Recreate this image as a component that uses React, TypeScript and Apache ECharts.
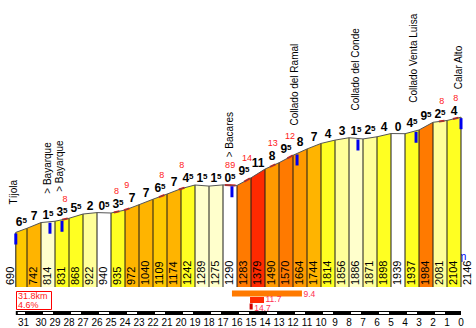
import React, { useEffect, useRef } from "react";
import * as echarts from "echarts";

const kmToGo = [31.8, 31, 30, 29, 28, 27, 26, 25, 24, 23, 22, 21, 20, 19, 18, 17, 16, 15, 14, 13, 12, 11, 10, 9, 8, 7, 6, 5, 4, 3, 2, 1, 0];
const elevations = [690, 742, 814, 831, 868, 922, 940, 935, 972, 1040, 1109, 1174, 1242, 1289, 1275, 1290, 1283, 1379, 1490, 1570, 1664, 1744, 1814, 1856, 1886, 1871, 1898, 1939, 1937, 1984, 2081, 2104, 2146];
const gradients = [6.5, 7, 1.5, 3.5, 5.5, 2, 0.5, 3.5, 7, 7, 6.5, 7, 4.5, 1.5, 1.5, 0.5, 9.5, 11, 8, 9.5, 8, 7, 4, 3, 1.5, 2.5, 4, 0, 4.5, 9.5, 2.5, 4];
const placeNames = ["Tíjola", "> Bayarque", "> Bayarque", "> Bacares", "Collado del Ramal", "Collado del Conde", "Collado Venta Luisa", "Calar Alto"];
const placeKm = [31.8, 29.36, 28.5, 16.36, 11.71, 7.36, 3.21, 0];
const steepKm = [28.29, 24.6, 23.88, 21.38, 19.95, 16.67, 16.3, 15.28, 13.45, 12.21, 1.38, 0.38];
const steepGrade = [8, 8, 9, 8, 8, 8, 9, 14, 13, 12, 8, 8];
const stretchLabels = ["9.4", "11.7", "14.7"];
const stretchFrom = [16.36, 15.07, 15.1];
const stretchTo = [11.36, 14.07, 14.88];
const totalKm = 31.8;
const avgGrade = 4.6;
const creditText = "www.cyclingcols.com";

// ---- styling helpers ----
const SANS = "'Liberation Sans', Arial, sans-serif";
const BOLD = "'DejaVu Sans', Verdana, sans-serif";
const STRETCH_TEXT_DY = [3, 1.8, 4];

function colorFor(g: number): string {
  if (g < 1) return "#FFFFFF";
  if (g < 2) return "#FFFFCC";
  if (g < 3.5) return "#FFFF99";
  if (g < 6) return "#FFFF22";
  if (g < 7) return "#FFC800";
  if (g < 8) return "#FFB400";
  if (g < 9) return "#FF9A00";
  if (g < 10) return "#FF7A00";
  if (g < 12) return "#FF2A00";
  return "#D00000";
}

function profileAt(k: number) {
  for (let i = 0; i < kmToGo.length - 1; i++) {
    const a = kmToGo[i];
    const b = kmToGo[i + 1];
    if (k <= a && k >= b) {
      const t = (a - k) / (a - b);
      return {
        e: elevations[i] + t * (elevations[i + 1] - elevations[i]),
        top: Math.max(elevations[i], elevations[i + 1]),
      };
    }
  }
  const n = elevations.length - 1;
  return { e: elevations[n], top: elevations[n] };
}

const barData = gradients.map((g, i) => [kmToGo[i], kmToGo[i + 1], elevations[i], elevations[i + 1], g]);
const pointData = kmToGo.map((k, i) => [k, elevations[i]]);

function gradeText(g: number) {
  const parts = String(g).split(".");
  return parts.length > 1 ? `{a|${parts[0]}}{b|${parts[1]}}` : `{a|${parts[0]}}`;
}

export default function App() {
  const ref = useRef<HTMLDivElement>(null);
  useEffect(() => {
    document.body.style.margin = "0";
    const chart = echarts.init(ref.current!, null, { renderer: "svg" });
    const lastBar = barData.length - 1;
    const option: any = {
      animation: false,
      backgroundColor: "#ffffff",
      grid: { left: 15.8, right: 15, top: 10, bottom: 41 },
      xAxis: {
        type: "value",
        min: 0,
        max: totalKm,
        inverse: true,
        interval: 1,
        axisLine: { show: false },
        axisTick: { show: false },
        splitLine: { show: false },
        axisLabel: {
          showMaxLabel: false,
          margin: 30,
          fontSize: 10,
          fontFamily: SANS,
          color: "#000",
          formatter: (v: number) => (Number.isInteger(v) ? (v === 31 ? "{s|31}" : String(v)) : ""),
          rich: { s: { padding: [0, 7, 0, 0], fontSize: 10, fontFamily: SANS, color: "#000" } },
        },
      },
      yAxis: { type: "value", min: 0, max: 3500, show: false },
      series: [
        {
          type: "custom",
          clip: false,
          silent: true,
          data: barData,
          encode: { x: [0, 1], y: [2, 3] },
          renderItem: (params: any, api: any) => {
            const k0 = api.value(0), k1 = api.value(1), e0 = api.value(2), e1 = api.value(3), g = api.value(4);
            const p0 = api.coord([k0, e0]);
            const p1 = api.coord([k1, e1]);
            const b0 = api.coord([k0, 0]);
            const b1 = api.coord([k1, 0]);
            const children: any[] = [
              { type: "polygon", shape: { points: [b0, p0, p1, b1] }, style: { fill: colorFor(g) } },
              { type: "line", shape: { x1: p0[0], y1: p0[1], x2: b0[0], y2: b0[1] }, style: { stroke: "#1a1a1a", lineWidth: 1 } },
            ];
            if (params.dataIndex === lastBar) {
              children.push({ type: "line", shape: { x1: p1[0], y1: p1[1], x2: b1[0], y2: b1[1] }, style: { stroke: "#1a1a1a", lineWidth: 1 } });
            }
            return { type: "group", children };
          },
        },
        {
          type: "line",
          data: pointData,
          symbol: "none",
          silent: true,
          lineStyle: { color: "#555", width: 1 },
        },
        {
          type: "custom",
          clip: false,
          silent: true,
          data: pointData,
          encode: { x: 0, y: 1 },
          renderItem: (params: any, api: any) => {
            const k = api.value(0), e = api.value(1);
            const p = api.coord([k, e]);
            const b = api.coord([k, 0]);
            const off = params.dataIndex === 0 ? -6 : 5.5;
            return {
              type: "text",
              x: p[0] + off,
              y: b[1] - 2,
              rotation: Math.PI / 2,
              style: { text: String(e), fill: "#000", font: `11px ${SANS}`, align: "left", verticalAlign: "middle" },
            };
          },
        },
        {
          type: "custom",
          clip: false,
          silent: true,
          data: barData,
          encode: { x: [0, 1], y: [2, 3] },
          renderItem: (params: any, api: any) => {
            const k0 = api.value(0), k1 = api.value(1), e0 = api.value(2), e1 = api.value(3), g = api.value(4);
            const p = api.coord([(k0 + k1) / 2, Math.max(e0, e1)]);
            return {
              type: "text",
              x: p[0],
              y: p[1] - 1,
              style: {
                text: gradeText(g),
                align: "center",
                verticalAlign: "bottom",
                rich: {
                  a: { fill: "#000", fontSize: 12, fontWeight: "bold", fontFamily: SANS, lineHeight: 11 },
                  b: { fill: "#000", fontSize: 8, fontWeight: "bold", fontFamily: SANS, verticalAlign: "top", lineHeight: 7 },
                },
              },
            };
          },
        },
        {
          type: "custom",
          clip: false,
          silent: true,
          data: steepKm.map((k, i) => [k, profileAt(k).e, steepGrade[i]]),
          encode: { x: 0, y: 1 },
          renderItem: (params: any, api: any) => {
            const k = api.value(0), v = api.value(2);
            const a = api.coord([k + 0.2, profileAt(Math.min(k + 0.2, totalKm)).e]);
            const c = api.coord([k - 0.2, profileAt(Math.max(k - 0.2, 0)).e]);
            const t = api.coord([k, profileAt(k).top]);
            return {
              type: "group",
              children: [
                { type: "line", shape: { x1: a[0], y1: a[1], x2: c[0], y2: c[1] }, style: { stroke: "#FF1010", lineWidth: 2 } },
                {
                  type: "text",
                  x: t[0],
                  y: t[1] - 15,
                  style: { text: String(v), fill: "#FF2020", font: `9px ${SANS}`, align: "center", verticalAlign: "bottom", lineHeight: 9 },
                },
              ],
            };
          },
        },
        {
          type: "custom",
          clip: false,
          silent: true,
          data: placeKm.map((k, i) => [k, profileAt(k).e, i]),
          encode: { x: 0, y: 1 },
          renderItem: (params: any, api: any) => {
            const k = api.value(0), e = api.value(1), idx = api.value(2);
            const p = api.coord([k, e]);
            return {
              type: "group",
              children: [
                { type: "rect", shape: { x: p[0] - 1.5, y: p[1] + 1, width: 3, height: 11 }, style: { fill: "#0000EE" } },
                {
                  type: "text",
                  x: p[0] - 2.5,
                  y: p[1] - 28,
                  rotation: Math.PI / 2,
                  style: { text: placeNames[idx], fill: "#000", font: `10px ${SANS}`, align: "left", verticalAlign: "middle" },
                },
              ],
            };
          },
        },
        {
          type: "custom",
          clip: false,
          silent: true,
          data: barData.map((d) => [d[0], d[1]]),
          encode: { x: [0, 1] },
          renderItem: (params: any, api: any) => {
            const k0 = api.value(0), k1 = api.value(1);
            const a = api.coord([k0, 0]);
            const c = api.coord([k1, 0]);
            const y = a[1] + 24;
            const children: any[] = [
              { type: "rect", shape: { x: a[0], y, width: c[0] - a[0], height: 4 }, style: { fill: "#000" } },
            ];
            if (k1 % 2 === 1) {
              children.push({ type: "rect", shape: { x: a[0] + 2, y: y + 1, width: c[0] - a[0] - 4, height: 2 }, style: { fill: "#fff" } });
            }
            return { type: "group", children };
          },
        },
        {
          type: "custom",
          clip: false,
          silent: true,
          data: stretchLabels.map((s, i) => [stretchFrom[i], stretchTo[i], parseFloat(s), i]),
          encode: { x: [0, 1] },
          renderItem: (params: any, api: any) => {
            const k0 = api.value(0), k1 = api.value(1), v = api.value(2), row = api.value(3);
            const a = api.coord([k0, 0]);
            const c = api.coord([k1, 0]);
            const y = a[1] + 3.5 + row * 6.5;
            return {
              type: "group",
              children: [
                { type: "rect", shape: { x: a[0], y, width: c[0] - a[0], height: 6 }, style: { fill: colorFor(v) } },
                {
                  type: "text",
                  x: c[0] + 1.5,
                  y: y + STRETCH_TEXT_DY[row],
                  style: { text: stretchLabels[row], fill: "#FF3050", font: `8.5px ${SANS}`, align: "left", verticalAlign: "middle", lineHeight: 8 },
                },
              ],
            };
          },
        },
      ],
      graphic: [
        {
          type: "group",
          left: 16,
          top: 291,
          children: [
            { type: "rect", shape: { x: 0, y: 0, width: 35, height: 18 }, style: { fill: "#fff", stroke: "#FF0000", lineWidth: 1 } },
            {
              type: "text",
              x: 1.5,
              y: 4.6,
              style: { text: `${totalKm}km`, fill: "#FF2020", font: `9px ${SANS}`, verticalAlign: "middle" },
            },
            {
              type: "text",
              x: 1.5,
              y: 13.4,
              style: { text: `${avgGrade}%`, fill: "#FF2020", font: `9px ${SANS}`, verticalAlign: "middle" },
            },
          ],
        },
        {
          type: "group",
          left: 354,
          top: 250,
          children: [
            { type: "rect", shape: { x: 0, y: 0, width: 109, height: 12 }, style: { fill: "#fff" } },
            {
              type: "text",
              x: 1,
              y: 0.5,
              style: {
                text: `{c|©}{w|${creditText}}`,
                rich: {
                  c: { fill: "#8000C0", fontSize: 11, fontFamily: SANS },
                  w: { fill: "#0000FF", fontSize: 11, fontFamily: SANS },
                },
              },
            },
            { type: "line", shape: { x1: 10, y1: 11, x2: 109, y2: 11 }, style: { stroke: "#0000FF", lineWidth: 1 } },
          ],
        },
      ],
    };
    chart.setOption(option);
    return () => chart.dispose();
  }, []);
  return <div ref={ref} style={{ width: 476, height: 328 }} />;
}
